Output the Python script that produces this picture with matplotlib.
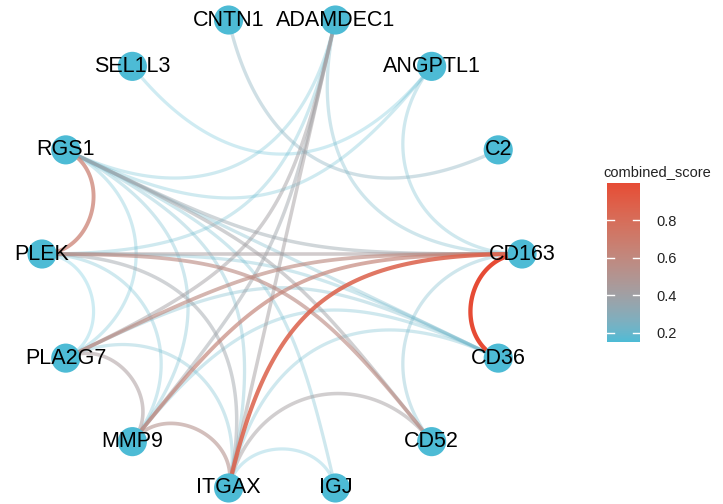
import numpy as np
import matplotlib
matplotlib.use("Agg")
import matplotlib.pyplot as plt
from matplotlib.collections import LineCollection
from matplotlib.colors import ListedColormap, Normalize
from matplotlib.cm import ScalarMappable

plt.rcParams['font.family'] = ['Liberation Sans', 'DejaVu Sans']

# ---- network data -------------------------------------------------------
nodes = ["ADAMDEC1", "ANGPTL1", "C2", "CD163", "CD36", "CD52", "IGJ",
         "ITGAX", "MMP9", "PLA2G7", "PLEK", "RGS1", "SEL1L3", "CNTN1"]

source = ["CD163", "CD163", "RGS1", "CD163", "CD163", "PLEK", "MMP9", "PLEK",
          "PLA2G7", "ITGAX", "ADAMDEC1", "ADAMDEC1", "ADAMDEC1", "RGS1", "RGS1",
          "PLEK", "ADAMDEC1", "CNTN1", "SEL1L3", "ANGPTL1", "CD163", "RGS1",
          "PLEK", "ITGAX", "IGJ", "PLEK", "PLA2G7", "RGS1", "RGS1", "PLEK",
          "PLA2G7", "PLA2G7", "MMP9", "ITGAX", "ADAMDEC1", "ADAMDEC1", "RGS1"]
target = ["CD36", "ITGAX", "PLEK", "MMP9", "PLA2G7", "CD52", "ITGAX", "CD163",
          "MMP9", "CD52", "ITGAX", "MMP9", "PLA2G7", "CD163", "CD52",
          "ITGAX", "CD163", "C2", "ANGPTL1", "CD163", "CD52", "CD36",
          "CD36", "IGJ", "RGS1", "PLA2G7", "RGS1", "MMP9", "ITGAX", "MMP9",
          "ITGAX", "CD36", "CD36", "CD36", "PLEK", "RGS1", "ANGPTL1"]
combined_score = [0.999, 0.86, 0.68, 0.63, 0.58, 0.57, 0.52, 0.44, 0.45, 0.42,
                  0.42, 0.38, 0.41, 0.36, 0.40, 0.38, 0.22, 0.28, 0.16, 0.20,
                  0.22, 0.22, 0.20, 0.17, 0.20, 0.15, 0.18, 0.20, 0.21, 0.19,
                  0.20, 0.22, 0.20, 0.20, 0.19, 0.18, 0.18]

low_col = "#4DBBD5"
high_col = "#E64B35"
node_col = "#4DBBD5"


# ---- colour gradient interpolated in CIE Lab (like ggplot2) ---------------
def _hex_rgb(h):
    h = h.lstrip("#")
    return np.array([int(h[i:i + 2], 16) / 255 for i in (0, 2, 4)])


_M = np.array([[0.4124, 0.3576, 0.1805],
               [0.2126, 0.7152, 0.0722],
               [0.0193, 0.1192, 0.9505]])
_W = np.array([0.95047, 1.0, 1.08883])


def rgb_to_lab(c):
    lin = np.where(c <= 0.04045, c / 12.92, ((c + 0.055) / 1.055) ** 2.4)
    t = (_M @ lin) / _W
    f = np.where(t > 0.008856, np.cbrt(t), 7.787 * t + 16 / 116)
    return np.array([116 * f[1] - 16, 500 * (f[0] - f[1]), 200 * (f[1] - f[2])])


def lab_to_rgb(lab):
    L, a, b = lab
    fy = (L + 16) / 116
    fx = fy + a / 500
    fz = fy - b / 200
    f = np.array([fx, fy, fz])
    t = np.where(f ** 3 > 0.008856, f ** 3, (f - 16 / 116) / 7.787) * _W
    lin = np.linalg.solve(_M, t)
    lin = np.clip(lin, 0, 1)
    c = np.where(lin <= 0.0031308, 12.92 * lin, 1.055 * lin ** (1 / 2.4) - 0.055)
    return np.clip(c, 0, 1)


lab0, lab1 = rgb_to_lab(_hex_rgb(low_col)), rgb_to_lab(_hex_rgb(high_col))
grad = [lab_to_rgb(lab0 + (lab1 - lab0) * u) for u in np.linspace(0, 1, 256)]
cmap = ListedColormap(grad)

scores = np.array(combined_score)
norm = Normalize(vmin=scores.min(), vmax=scores.max())

# ---- circular layout ------------------------------------------------------
n = len(nodes)
theta = np.deg2rad(180 / n + np.arange(n) * 360 / n)   # clockwise from top
pos = {nm: np.array([np.sin(t), np.cos(t)]) for nm, t in zip(nodes, theta)}
ang = {nm: t for nm, t in zip(nodes, theta)}


def arc_points(p0, p3, d, m=80):
    k = 1 - np.sin(d / 2)
    p1, p2 = k * p0, k * p3
    u = np.linspace(0, 1, m)[:, None]
    return ((1 - u) ** 3 * p0 + 3 * (1 - u) ** 2 * u * p1
            + 3 * (1 - u) * u ** 2 * p2 + u ** 3 * p3)


fig = plt.figure(figsize=(7.23, 5.04), dpi=100)
ax = fig.add_axes([0, 0, 1, 1])
R_px, cx, cy = 240.0, 282.0, 254.0
ax.set_xlim(-cx / R_px, (723 - cx) / R_px)
ax.set_ylim(-(504 - cy) / R_px, cy / R_px)
ax.axis("off")

order = np.argsort(scores)
segs, cols, lws = [], [], []
for i in order:
    a, b = source[i], target[i]
    d = abs(ang[a] - ang[b])
    d = min(d, 2 * np.pi - d)
    segs.append(arc_points(pos[a], pos[b], d))
    c = np.array(cmap(norm(scores[i])))
    c[3] = np.interp(scores[i], [0.15, 1.0], [0.27, 1.0])
    cols.append(c)
    lws.append(2.3 + 0.8 * (scores[i] - 0.15) / 0.85)

ax.add_collection(LineCollection(segs, colors=cols, linewidths=lws,
                                 capstyle="butt", zorder=1))

xy = np.array([pos[nm] for nm in nodes])
ax.scatter(xy[:, 0], xy[:, 1], s=440, c=node_col, edgecolors="none", zorder=2)
for nm in nodes:
    ax.text(pos[nm][0], pos[nm][1], nm, ha="center", va="center",
            fontsize=15.5, color="black", zorder=3)

# ---- colour bar legend ----------------------------------------------------
W, H = 723, 504
cax = fig.add_axes([607 / W, (H - 342) / H, 33 / W, 159 / H])
sm = ScalarMappable(norm=norm, cmap=cmap)
cb = fig.colorbar(sm, cax=cax, ticks=[0.2, 0.4, 0.6, 0.8])
cb.outline.set_visible(False)
cax.tick_params(length=0, labelsize=10.5, pad=12, labelcolor="#222222")
for t in [0.2, 0.4, 0.6, 0.8]:
    cax.plot([0, 0.2], [t, t], color="white", lw=1.0, transform=cax.get_yaxis_transform())
    cax.plot([0.8, 1.0], [t, t], color="white", lw=1.0, transform=cax.get_yaxis_transform())
fig.text(603 / W, (H - 172) / H, "combined_score", ha="left", va="center",
         fontsize=10.5, color="#222222")

fig.savefig("out.png", dpi=100)
